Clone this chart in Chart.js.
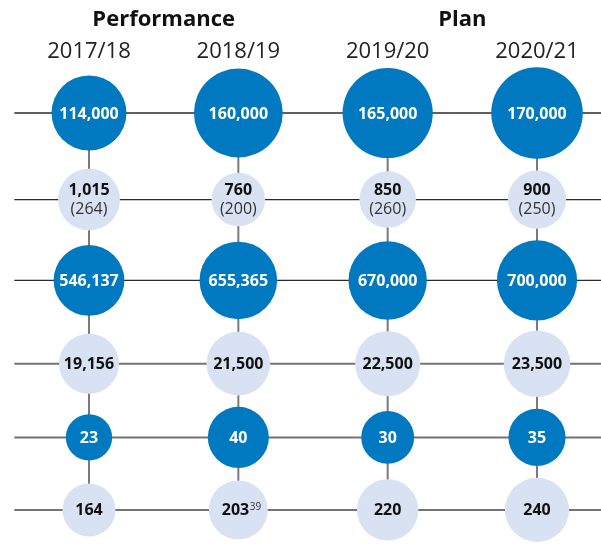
<!DOCTYPE html>
<html>
<head>
<meta charset="utf-8">
<script src="https://cdn.jsdelivr.net/npm/chart.js@4.4.1/dist/chart.umd.min.js"></script>
<style>
  html, body { margin: 0; padding: 0; background: #ffffff; }
  #wrap { width: 601px; height: 544px; position: relative; }
</style>
</head>
<body>
<div id="wrap"><canvas id="c" width="601" height="544"></canvas></div>
<script>
// ---- DATA ----
const groups = ['Performance', 'Plan'];
const years = ['2017/18', '2018/19', '2019/20', '2020/21'];
const row1 = [114000, 160000, 165000, 170000];
const row2 = [1015, 760, 850, 900];
const row2Sub = [264, 200, 260, 250];
const row3 = [546137, 655365, 670000, 700000];
const row4 = [19156, 21500, 22500, 23500];
const row5 = [23, 40, 30, 35];
const row6 = [164, 203, 220, 240];
const row6Notes = ['', '39', '', ''];

// ---- STYLE / LAYOUT ----
const rows = [row1, row2, row3, row4, row5, row6];
const rowScale = [0.111, 0.97, 0.0479, 0.217, 4.83, 2.07];   // radius = scale * sqrt(value)
const DARK = '#0079c1';
const LIGHT = '#d8e2f3';
const rowFill = [DARK, LIGHT, DARK, LIGHT, DARK, LIGHT];
const rowText = ['#ffffff', '#111111', '#ffffff', '#111111', '#ffffff', '#111111'];
const rowLine = ['#2b2b2b', '#2b2b2b', '#2b2b2b', '#737373', '#737373', '#737373'];
const rowLineW = [1.3, 1.3, 1.3, 2, 2, 2];
const GAP = 9.9;
const FONT = '"Open Sans", "Noto Sans", sans-serif';

const radii = rows.map((vals, i) => vals.map(v => rowScale[i] * Math.sqrt(v)));
const maxR = radii.map(rs => Math.max(...rs));
const rowY = [0];
for (let i = 1; i < rows.length; i++) rowY.push(rowY[i - 1] + maxR[i - 1] + maxR[i] + GAP);

const X_MIN = -89 / 149.33, X_MAX = 3 + 64 / 149.33;
const Y_MIN = -113, Y_MAX = 431;

const datasets = [];
rows.forEach((vals, i) => {
  datasets.push({
    type: 'bubble',
    order: 1,
    data: vals.map((v, j) => ({ x: j, y: rowY[i], r: radii[i][j] })),
    backgroundColor: rowFill[i],
    borderWidth: 0,
    hoverBorderWidth: 0,
    clip: false
  });
});
rows.forEach((vals, i) => {
  datasets.push({
    type: 'line',
    order: 3,
    data: [{ x: -0.5, y: rowY[i] }, { x: X_MAX, y: rowY[i] }],
    borderColor: rowLine[i],
    borderWidth: rowLineW[i],
    pointRadius: 0,
    fill: false,
    clip: false
  });
});
years.forEach((y, j) => {
  datasets.push({
    type: 'line',
    order: 2,
    data: [{ x: j, y: rowY[0] }, { x: j, y: rowY[rowY.length - 1] }],
    borderColor: '#7a7a7a',
    borderWidth: 2,
    pointRadius: 0,
    fill: false,
    clip: false
  });
});

const labelPlugin = {
  id: 'labels',
  afterDatasetsDraw(chart) {
    const ctx = chart.ctx;
    const xs = chart.scales.x;
    ctx.save();
    ctx.textAlign = 'center';
    ctx.textBaseline = 'middle';
    // headers
    ctx.fillStyle = '#111111';
    ctx.font = 'bold 22px ' + FONT;
    ctx.fillText(groups[0], (xs.getPixelForValue(0) + xs.getPixelForValue(1)) / 2, 20);
    ctx.fillText(groups[1], (xs.getPixelForValue(2) + xs.getPixelForValue(3)) / 2, 20);
    ctx.fillStyle = '#222222';
    ctx.font = '22px ' + FONT;
    years.forEach((y, j) => ctx.fillText(y, xs.getPixelForValue(j), 52));

    rows.forEach((vals, i) => {
      const meta = chart.getDatasetMeta(i);
      vals.forEach((v, j) => {
        const el = meta.data[j];
        const cx = el.x, cy = el.y;
        const txt = v.toLocaleString('en-US');
        ctx.fillStyle = rowText[i];
        ctx.font = 'bold 16px ' + FONT;
        if (rows[i] === row2) {
          ctx.fillText(txt, cx, cy - 9);
          ctx.font = '16px ' + FONT;
          ctx.fillStyle = '#333333';
          ctx.fillText('(' + row2Sub[j] + ')', cx, cy + 10);
        } else if (rows[i] === row6 && row6Notes[j]) {
          const w1 = ctx.measureText(txt).width;
          ctx.font = '10px ' + FONT;
          const w2 = ctx.measureText(row6Notes[j]).width;
          const x0 = cx - w1 / 2 - w2 / 4;
          ctx.textAlign = 'left';
          ctx.font = 'bold 16px ' + FONT;
          ctx.fillText(txt, x0, cy + 1);
          ctx.font = '10px ' + FONT;
          ctx.fillStyle = '#333333';
          ctx.fillText(row6Notes[j], x0 + w1 + 0.5, cy - 3);
          ctx.textAlign = 'center';
        } else {
          ctx.fillText(txt, cx, cy + 1);
        }
      });
    });
    ctx.restore();
  }
};

new Chart(document.getElementById('c'), {
  type: 'bubble',
  data: { datasets },
  options: {
    responsive: false,
    animation: false,
    events: [],
    devicePixelRatio: 1,
    layout: { padding: 0, autoPadding: false },
    plugins: { legend: { display: false }, tooltip: { enabled: false } },
    scales: {
      x: { type: 'linear', display: false, min: X_MIN, max: X_MAX },
      y: { type: 'linear', display: false, min: Y_MIN, max: Y_MAX, reverse: true }
    }
  },
  plugins: [labelPlugin]
});
</script>
</body>
</html>
